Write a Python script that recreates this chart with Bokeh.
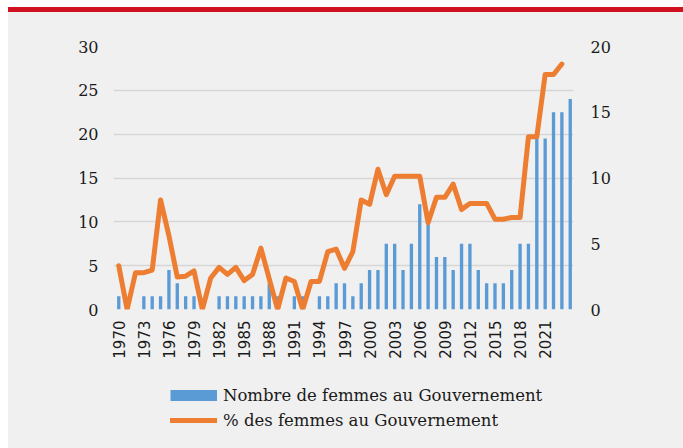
import math
from bokeh.plotting import figure
from bokeh.models import (Range1d, LinearAxis, FixedTicker, Legend, LegendItem, Div)
from bokeh.layouts import column
from bokeh.embed import file_html
from bokeh.resources import INLINE

# ---- data ----
bar_years = list(range(1970, 2025))
nb_femmes = [1, 0, 0, 1, 1, 1, 3, 2, 1, 1,
             0, 0, 1, 1, 1, 1, 1, 1, 2, 1,
             0, 1, 1, 0, 1, 1, 2, 2, 1, 2,
             3, 3, 5, 5, 3, 5, 8, 7, 4, 4,
             3, 5, 5, 3, 2, 2, 2, 3, 5, 5,
             13, 13, 15, 15, 16]

line_years = list(range(1970, 2024))
pct_femmes = [5.0, 0.0, 4.2, 4.2, 4.5, 12.5, 8.4, 3.7, 3.8, 4.4,
              0.0, 3.6, 4.8, 4.0, 4.8, 3.3, 4.0, 7.0, 3.5, 0.0,
              3.6, 3.2, 0.0, 3.2, 3.2, 6.6, 6.9, 4.7, 6.6, 12.5,
              12.0, 16.0, 13.1, 15.2, 15.2, 15.2, 15.2, 9.9, 12.8, 12.8,
              14.3, 11.4, 12.1, 12.1, 12.1, 10.3, 10.3, 10.5, 10.5, 19.7,
              19.7, 26.8, 26.8, 28.0]

tick_years = list(range(1970, 2022, 3))
tick_labels = [str(y) for y in tick_years]
left_ticks = [0, 5, 10, 15, 20, 25, 30]
right_ticks = [0, 5, 10, 15, 20]

label_bar = "Nombre de femmes au Gouvernement"
label_line = "% des femmes au Gouvernement"

BLUE = "#5b9bd5"
ORANGE = "#ed7d31"
BG = "#f0f0f0"
TXT = "#1a1a1a"
SERIF = "DejaVu Serif"

p = figure(width=675, height=360, output_backend="svg", toolbar_location=None,
           x_range=Range1d(1969.37, 2024.39), y_range=Range1d(0, 30),
           min_border_left=105, min_border_right=110, min_border_top=34,
           min_border_bottom=63, margin=0)
p.background_fill_color = BG
p.border_fill_color = BG
p.outline_line_color = None

p.extra_y_ranges = {"count": Range1d(0, 20)}

p.vbar(x=bar_years, top=nb_femmes, width=0.4, fill_color=BLUE, line_color=None,
       y_range_name="count")
p.line(x=line_years, y=pct_femmes, line_color=ORANGE, line_width=5,
       line_join="round", line_cap="round")

# axes
xa = p.xaxis[0]
xa.ticker = FixedTicker(ticks=tick_years)
xa.major_label_overrides = {y: l for y, l in zip(tick_years, tick_labels)}
xa.major_label_orientation = math.pi / 2
xa.axis_line_color = None
xa.major_tick_line_color = None
xa.minor_tick_line_color = None
xa.major_tick_out = 0
xa.major_tick_in = 0
xa.major_label_standoff = 11
xa.major_label_text_font = "DejaVu Sans"
xa.major_label_text_font_size = "15px"
xa.major_label_text_color = TXT

ya = p.yaxis[0]
ya.ticker = FixedTicker(ticks=left_ticks)
ya.axis_line_color = None
ya.major_tick_line_color = None
ya.minor_tick_line_color = None
ya.major_tick_out = 0
ya.major_tick_in = 0
ya.major_label_standoff = 15
ya.major_label_text_font = SERIF
ya.major_label_text_font_size = "16px"
ya.major_label_text_color = TXT

ra = LinearAxis(y_range_name="count", ticker=FixedTicker(ticks=right_ticks))
ra.axis_line_color = None
ra.major_tick_line_color = None
ra.minor_tick_line_color = None
ra.major_tick_out = 0
ra.major_tick_in = 0
ra.major_label_standoff = 17
ra.major_label_text_font = SERIF
ra.major_label_text_font_size = "16px"
ra.major_label_text_color = TXT
p.add_layout(ra, "right")

p.xgrid.grid_line_color = None
p.ygrid.ticker = FixedTicker(ticks=left_ticks)
p.ygrid.grid_line_color = "#d6d6d6"
p.ygrid.grid_line_width = 1.5

# legend in its own strip below the chart (its frame aligns with the chart's frame)
lg = figure(width=675, height=76, output_backend="svg", toolbar_location=None,
            x_axis_type=None, y_axis_type=None, x_range=Range1d(0, 1),
            y_range=Range1d(0, 1), min_border_left=105, min_border_right=110,
            min_border_top=0, min_border_bottom=0, margin=0)
lg.background_fill_color = BG
lg.border_fill_color = BG
lg.outline_line_color = None
# legend swatches (points lie outside the visible range)
r_bar = lg.line(x=[-5, -4], y=[-5, -4], line_color=BLUE, line_width=11, line_cap="butt")
r_line = lg.line(x=[-5, -4], y=[-5, -4], line_color=ORANGE, line_width=5, line_cap="round")

legend = Legend(items=[LegendItem(label=label_bar, renderers=[r_bar]),
                       LegendItem(label=label_line, renderers=[r_line])],
                location=(57, 17), orientation="vertical",
                glyph_width=47, glyph_height=22, label_height=22, spacing=3,
                label_standoff=6, padding=0, margin=0,
                border_line_color=None, background_fill_alpha=0,
                label_text_font=SERIF, label_text_font_size="16.5px",
                label_text_color=TXT)
lg.add_layout(legend, "center")

red = Div(text="", width=675, height=5, margin=0,
          styles={"background-color": "#d0111f"})

layout = column(red, p, lg, spacing=0, margin=(7, 0, 0, 8),
                styles={"background-color": BG})

open("out.html", "w").write(file_html(layout, INLINE))
